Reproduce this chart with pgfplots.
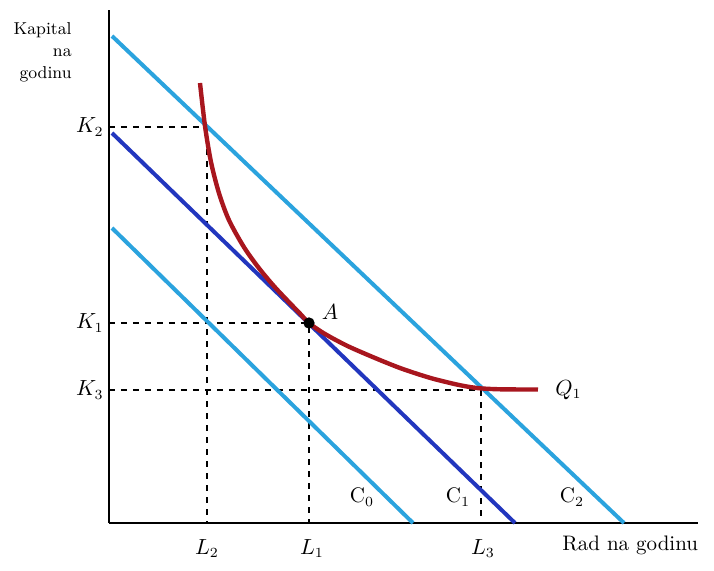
\documentclass[border=0pt]{standalone}
\usepackage{pgfplots}
\pgfplotsset{compat=1.18}
\definecolor{lblue}{HTML}{2BA3DE}
\definecolor{dblue}{HTML}{2236BE}
\definecolor{qred}{HTML}{A8161E}

% isocost lines C0, C1, C2 and isoquant Q1 (units = reference pixels)
\pgfplotstableread{
x y
3 295
304 0
}\czero
\pgfplotstableread{
x y
3 390
406 0
}\cone
\pgfplotstableread{
x y
3 487
515 0
}\ctwo
\pgfplotstableread{
x y
91 440
96 397
102 361
110 329.8
120 302.8
135 275.8
150 254.8
165 236.8
180 220.8
190 210.5
200 200
212 191.5
224 184.5
240 176.3
258 168.4
275 161.3
291 155
308 149.2
324 144.3
340 140.3
351 137.8
362 135.8
372 134.6
385 133.9
398 133.6
429 133.5
}\qone

\begin{document}
\begin{tikzpicture}
\fontsize{10.5}{12.5}\selectfont
\begin{axis}[
  scale only axis, width=294.5pt, height=256.5pt,
  xmin=0, xmax=589, ymin=0, ymax=513,
  axis x line=bottom, axis y line=left,
  axis line style={-, line width=0.9pt},
  xtick=\empty, ytick=\empty,
  clip=false,
]
\path (axis cs:-109,-47) rectangle (axis cs:605,523);

% dashed guides
\addplot[black, dashed, line width=0.8pt] coordinates {(0,396) (98,396) (98,0)};
\addplot[black, dashed, line width=0.8pt] coordinates {(0,200) (200,200) (200,0)};
\addplot[black, dashed, line width=0.8pt] coordinates {(0,133) (372,133) (372,0)};

\addplot[lblue, line width=2pt] table {\czero};
\addplot[dblue, line width=2pt] table {\cone};
\addplot[lblue, line width=2pt] table {\ctwo};
\addplot[qred, line width=2.2pt, smooth] table {\qone};
\addplot[only marks, mark=*, mark size=2.6pt, black] coordinates {(200,200)};

\node[anchor=east, align=right, inner sep=0pt, font=\fontsize{8.6}{11}\selectfont]
  at (axis cs:-37,471) {Kapital\\na\\godinu};
\node[anchor=east] at (axis cs:2,396) {$K_2$};
\node[anchor=east] at (axis cs:2,200) {$K_1$};
\node[anchor=east] at (axis cs:2,133) {$K_3$};
\node[anchor=north] at (axis cs:98,-9) {$L_2$};
\node[anchor=north] at (axis cs:203,-9) {$L_1$};
\node[anchor=north] at (axis cs:374,-9) {$L_3$};
\node[anchor=west] at (axis cs:446,-22) {Rad na godinu};
\node at (axis cs:253,26) {C$_0$};
\node at (axis cs:349,26) {C$_1$};
\node at (axis cs:463,26) {C$_2$};
\node[anchor=west] at (axis cs:439,133) {$Q_1$};
\node at (axis cs:221,211) {$A$};
\end{axis}
\end{tikzpicture}
\end{document}
